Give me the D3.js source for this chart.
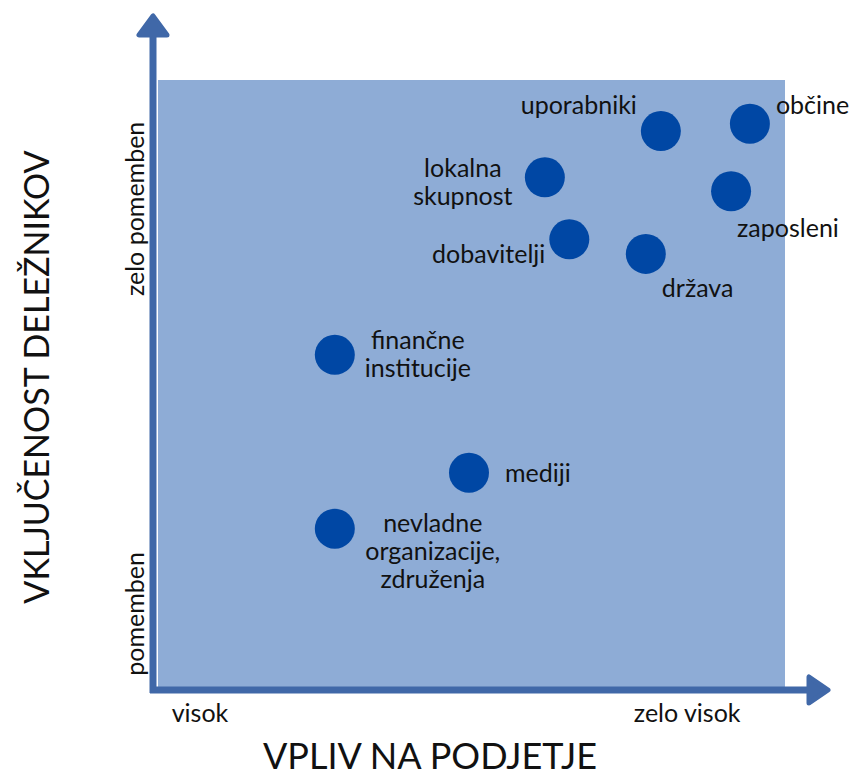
<!DOCTYPE html>
<html>
<head>
<meta charset="utf-8">
<script src="https://cdn.jsdelivr.net/npm/d3@7"></script>
<style>
  body { margin: 0; background: #fff; }
  svg text { font-family: Lato, "Noto Sans", sans-serif; fill: #111; }
</style>
</head>
<body>
<svg width="853" height="776"></svg>
<script>
// data (0-100 on both axes)
var names = ["uporabniki", "občine", "lokalna skupnost", "zaposleni", "dobavitelji",
             "država", "finančne institucije", "mediji", "nevladne organizacije, združenja"];
var impact = [80.2, 94.4, 61.7, 91.4, 65.6, 77.8, 28.2, 49.6, 28.2];
var involvement = [91.6, 92.8, 84.0, 81.7, 73.8, 71.4, 54.8, 35.4, 26.2];

var xTickLabels = ["visok", "zelo visok"];
var xTickValues = [6.7, 84.4];
var yTickLabels = ["pomemben", "zelo pomemben"];
var yTickValues = [12.2, 78.8];

var xTitle = "VPLIV NA PODJETJE";
var yTitle = "VKLJUČENOST DELEŽNIKOV";

// label placement (offset from dot centre, anchor, line breaks)
var labelLayout = {
  "uporabniki": { dx: -24, dy: -17, anchor: "end", lines: ["uporabniki"] },
  "občine": { dx: 26, dy: -10, anchor: "start", lines: ["občine"] },
  "lokalna skupnost": { dx: -82, dy: 0, anchor: "middle", lines: ["lokalna", "skupnost"] },
  "zaposleni": { dx: 6, dy: 46, anchor: "start", lines: ["zaposleni"] },
  "dobavitelji": { dx: -24, dy: 24, anchor: "end", lines: ["dobavitelji"] },
  "država": { dx: 16, dy: 43, anchor: "start", lines: ["država"] },
  "finančne institucije": { dx: 83, dy: -6, anchor: "middle", lines: ["finančne", "institucije"] },
  "mediji": { dx: 36, dy: 9, anchor: "start", lines: ["mediji"] },
  "nevladne organizacije, združenja": { dx: 98, dy: 3, anchor: "middle", lines: ["nevladne", "organizacije,", "združenja"] }
};

var svg = d3.select("svg");
var plotLeft = 158, plotRight = 785, plotTop = 80, plotBottom = 688;

var xScale = d3.scaleLinear().domain([0, 100]).range([plotLeft, plotRight]);
var yScale = d3.scaleLinear().domain([0, 100]).range([plotBottom, plotTop]);

var axisColor = "#4068a8";

// plot background
svg.append("rect")
  .attr("x", plotLeft).attr("y", plotTop)
  .attr("width", plotRight - plotLeft).attr("height", plotBottom - plotTop)
  .style("fill", "#8eacd6");

// axes with arrows
svg.append("line")
  .attr("x1", 153).attr("y1", 693).attr("x2", 153).attr("y2", 34)
  .style("stroke", axisColor).style("stroke-width", 7);
svg.append("path")
  .attr("d", "M153,16 L139,35 L167,35 Z")
  .style("fill", axisColor).style("stroke", axisColor)
  .style("stroke-width", 5).style("stroke-linejoin", "round");

svg.append("line")
  .attr("x1", 150).attr("y1", 690).attr("x2", 810).attr("y2", 690)
  .style("stroke", axisColor).style("stroke-width", 7);
svg.append("path")
  .attr("d", "M828,690 L809,677 L809,703 Z")
  .style("fill", axisColor).style("stroke", axisColor)
  .style("stroke-width", 5).style("stroke-linejoin", "round");

// tick labels
svg.selectAll(".xtick")
  .data(xTickLabels)
  .enter().append("text")
  .attr("class", "xtick")
  .attr("x", function(d, i) { return xScale(xTickValues[i]); })
  .attr("y", 722)
  .attr("text-anchor", "middle")
  .style("font-size", "25px")
  .text(function(d) { return d; });

svg.selectAll(".ytick")
  .data(yTickLabels)
  .enter().append("text")
  .attr("class", "ytick")
  .attr("transform", function(d, i) { return "translate(144," + yScale(yTickValues[i]) + ") rotate(-90)"; })
  .attr("text-anchor", "middle")
  .style("font-size", "25px")
  .text(function(d) { return d; });

// axis titles
svg.append("text")
  .attr("x", 430).attr("y", 769)
  .attr("text-anchor", "middle")
  .style("font-size", "36px")
  .text(xTitle);

svg.append("text")
  .attr("transform", "translate(49,377) rotate(-90)")
  .attr("text-anchor", "middle")
  .style("font-size", "34px")
  .text(yTitle);

// dots
svg.selectAll(".dot")
  .data(names)
  .enter().append("circle")
  .attr("class", "dot")
  .attr("cx", function(d, i) { return xScale(impact[i]); })
  .attr("cy", function(d, i) { return yScale(involvement[i]); })
  .attr("r", 20)
  .style("fill", "#0047a4");

// labels
var labels = svg.selectAll(".label")
  .data(names)
  .enter().append("text")
  .attr("class", "label")
  .attr("text-anchor", function(d) { return labelLayout[d].anchor; })
  .style("font-size", "25px");

labels.each(function(d, i) {
  var lay = labelLayout[d];
  var cx = xScale(impact[i]), cy = yScale(involvement[i]);
  d3.select(this).selectAll("tspan")
    .data(lay.lines)
    .enter().append("tspan")
    .attr("x", cx + lay.dx)
    .attr("y", function(l, j) { return cy + lay.dy + j * 28; })
    .text(function(l) { return l; });
});
</script>
</body>
</html>
